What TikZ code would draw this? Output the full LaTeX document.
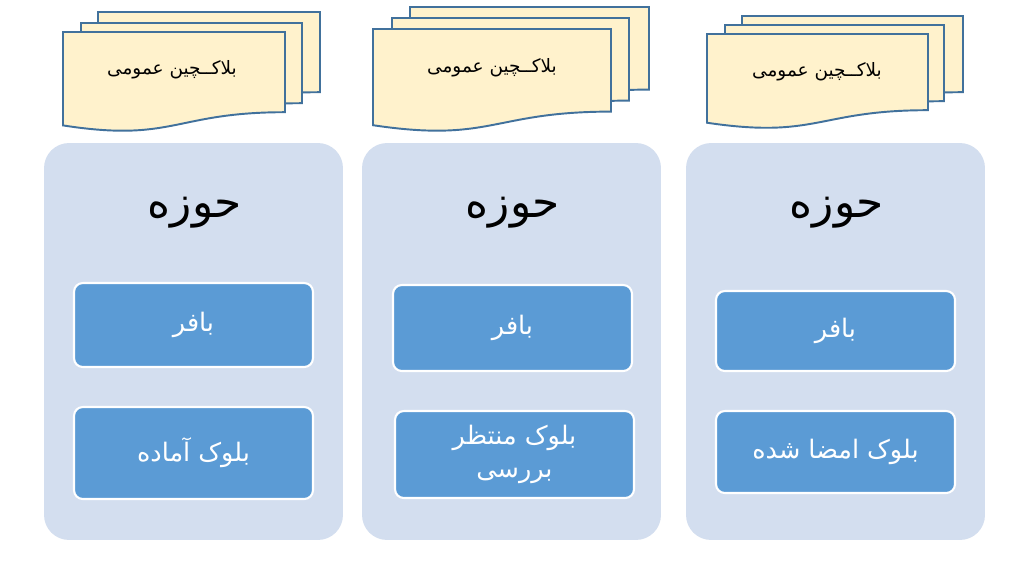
\documentclass[tikz,border=0pt]{standalone}
\usepackage{fontspec}
\newfontfamily\farsi[Script=Arabic]{DejaVu Sans}
\TeXXeTstate=1
\definecolor{zonefill}{HTML}{D3DEEF}
\definecolor{boxfill}{HTML}{5B9BD5}
\definecolor{paperfill}{HTML}{FFF2CC}
\definecolor{paperline}{HTML}{41719C}
% document sheet: x, y (top left), width, height
\newcommand{\sheet}[4]{%
  \draw[paperline, fill=paperfill, line width=1.1pt] (#1,#2) -- (#1+#3,#2) -- (#1+#3,#2+0.802*#4)
    .. controls (#1+0.5*#3,#2+0.802*#4) and (#1+0.5*#3,#2+1.107*#4) .. (#1,#2+0.934*#4) -- cycle;}
\begin{document}
\begin{tikzpicture}[x=0.02cm, y=-0.02cm, every node/.style={font=\farsi},
    zone/.style={fill=zonefill, rounded corners=0.5cm, minimum width=5.98cm, minimum height=7.94cm},
    cell/.style={draw=white, line width=1.2pt, fill=boxfill, rounded corners=5pt, text=white,
      minimum width=4.78cm, align=center, font=\farsi\fontsize{14.5}{19}\selectfont},
    title/.style={font=\farsi\fontsize{25}{30}\selectfont},
    doctext/.style={font=\farsi\fontsize{10.5}{13}\selectfont}]
  \useasboundingbox[fill=white] (0,0) rectangle (1013,565);
  % public blockchain sheets
  \sheet{98}{12}{222}{100}
  \sheet{81}{23}{221}{100}
  \sheet{63}{32}{222}{100}
  \node[doctext] (docA) at (172,70) {\beginR بلاکــچین عمومی\endR};
  \sheet{410}{7}{239}{103}
  \sheet{392}{18}{237}{103}
  \sheet{373}{29}{238}{103}
  \node[doctext] (docB) at (492,68) {\beginR بلاکــچین عمومی\endR};
  \sheet{742}{16}{221}{95}
  \sheet{725}{25}{219}{95}
  \sheet{707}{34}{221}{95}
  \node[doctext] (docC) at (817,72) {\beginR بلاکــچین عمومی\endR};
  % zones
  \node[zone] (zoneA) at (193.5,341.5) {};
  \node[zone] (zoneB) at (511.5,341.5) {};
  \node[zone] (zoneC) at (835.5,341.5) {};
  \node[title] (titleA) at (195,213) {\beginR حوزه\endR};
  \node[title] (titleB) at (513,213) {\beginR حوزه\endR};
  \node[title] (titleC) at (837,213) {\beginR حوزه\endR};
  \node[cell, minimum height=1.68cm] (bufA) at (193.5,325) {\beginR بافر\endR};
  \node[cell, minimum height=1.84cm] (blockA) at (193.5,453) {\beginR بلوک آماده\endR};
  \node[cell, minimum height=1.72cm] (bufB) at (512.5,328) {\beginR بافر\endR};
  \node[cell, minimum height=1.74cm] (blockB) at (514.5,454.5) {\beginR بلوک منتظر\endR\\\beginR بررسی\endR};
  \node[cell, minimum height=1.6cm] (bufC) at (835.5,331) {\beginR بافر\endR};
  \node[cell, minimum height=1.64cm] (blockC) at (835.5,452) {\beginR بلوک امضا شده\endR};
\end{tikzpicture}
\end{document}
